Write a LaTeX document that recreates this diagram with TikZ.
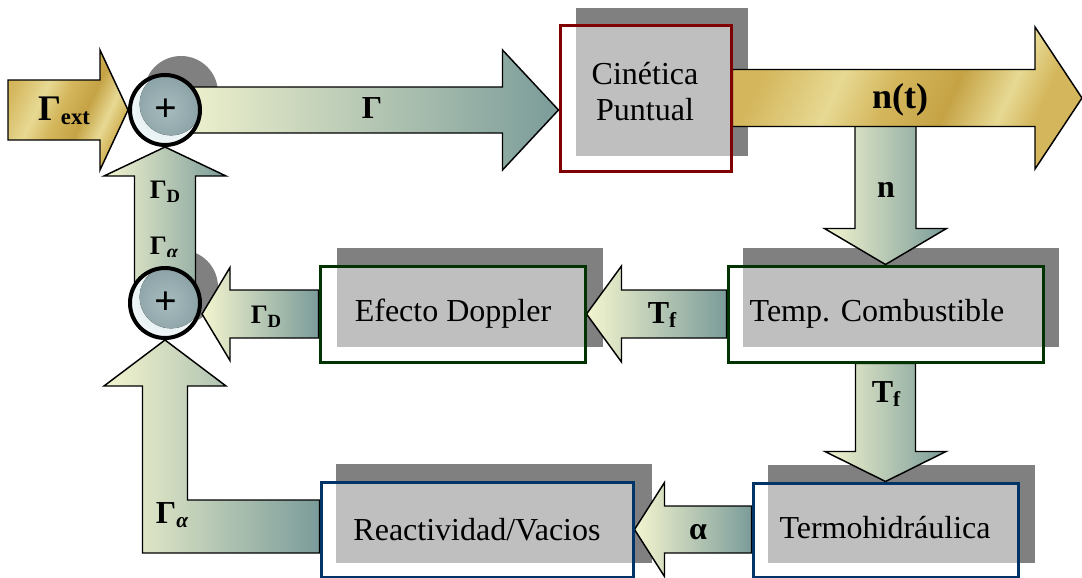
\documentclass[tikz,border=0pt]{standalone}
\usepackage{fontspec}
\setmainfont{Liberation Serif}
\usetikzlibrary{calc}

\pgfdeclarelayer{shadowlayer}
\pgfdeclarelayer{arrowlayer}
\pgfsetlayers{shadowlayer,arrowlayer,main}

\definecolor{boxred}{HTML}{800000}
\definecolor{boxgreen}{HTML}{003300}
\definecolor{boxblue}{HTML}{003366}
\definecolor{shadowgray}{HTML}{808080}
\definecolor{flowlight}{HTML}{F4F5CF}
\definecolor{flowdark}{HTML}{7B9C9A}
\definecolor{goldA}{HTML}{D4B65C}
\definecolor{goldB}{HTML}{E7D993}
\definecolor{goldC}{HTML}{C5A345}
\definecolor{ballrimin}{HTML}{CFE1E5}
\definecolor{ballrimout}{HTML}{F2F8F9}
\definecolor{ballin}{HTML}{A7BCBF}
\definecolor{ballout}{HTML}{89A0A4}

% metallic gold band pattern for the main signal arrows
\pgfdeclarehorizontalshading{goldmetal}{100bp}{color(0bp)=(goldA); color(25bp)=(goldA); color(38bp)=(goldB); color(47bp)=(goldA); color(57bp)=(goldC); color(66bp)=(goldB); color(72bp)=(goldA); color(100bp)=(goldA)}

% horizontal block arrow: style, start, tip, half body, half head, head length (signed, + = rightwards), in px
\newcommand{\hblock}[6]{%
  \path[#1] let \p1=(#2), \p2=(#3) in
    (\x1,{\y2+#4*0.75pt}) -- ({\x2-(#6)*0.75pt},{\y2+#4*0.75pt})
    -- ({\x2-(#6)*0.75pt},{\y2+#5*0.75pt}) -- (\x2,\y2)
    -- ({\x2-(#6)*0.75pt},{\y2-#5*0.75pt}) -- ({\x2-(#6)*0.75pt},{\y2-#4*0.75pt})
    -- (\x1,{\y2-#4*0.75pt}) -- cycle;}
% vertical block arrow: style, start, tip, half body, half head, head length (signed, + = downwards), in px
\newcommand{\vblock}[6]{%
  \path[#1] let \p1=(#2), \p2=(#3) in
    ({\x2-#4*0.75pt},\y1) -- ({\x2-#4*0.75pt},{\y2+(#6)*0.75pt})
    -- ({\x2-#5*0.75pt},{\y2+(#6)*0.75pt}) -- (\x2,\y2)
    -- ({\x2+#5*0.75pt},{\y2+(#6)*0.75pt}) -- ({\x2+#4*0.75pt},{\y2+(#6)*0.75pt})
    -- ({\x2+#4*0.75pt},\y1) -- cycle;}
\newcommand{\lowsub}[3]{\raisebox{-#2}{\fontsize{#1}{#1}\selectfont #3}}

\tikzset{
  flow/.style={draw=black, line width=1.1pt, left color=flowlight, right color=flowdark},
  goldflow/.style={draw=black, line width=1.1pt, shade, shading=goldmetal, shading angle=-25},
  blockbox/.style={draw=#1, line width=2.25pt, fill=white, fill opacity=0.5, draw opacity=1, inner sep=0pt},
  boxtext/.style={font=\fontsize{24}{27}\selectfont, align=center, inner sep=0pt},
  lbl/.style={font=\bfseries\fontsize{24}{24}\selectfont, inner sep=0pt},
  sumnode/.style={circle, draw=black, line width=3pt, minimum size=52.5pt, inner sep=0pt,
    inner color=ballrimin, outer color=ballrimout,
    path picture={\fill[inner color=ballin, outer color=ballout]
      ([xshift=4.5pt,yshift=4.5pt]path picture bounding box.center) circle (23.5pt);},
    font=\bfseries\fontsize{30}{30}\selectfont},
}

\begin{document}
\begin{tikzpicture}[x=0.75pt, y=-0.75pt]
\useasboundingbox (0,0) rectangle (1082,578);

% blocks
\node[blockbox=boxred,   minimum width=128.25pt, minimum height=109.5pt] (cin)   at (645.5,98) {};
\node[blockbox=boxgreen, minimum width=236.25pt, minimum height=72pt]    (temp)  at (885.5,314) {};
\node[blockbox=boxgreen, minimum width=198.75pt, minimum height=72pt]    (dop)   at (452.5,314) {};
\node[blockbox=boxblue,  minimum width=198.75pt, minimum height=70.5pt]  (termo) at (885.5,530) {};
\node[blockbox=boxblue,  minimum width=234pt,    minimum height=71.25pt] (react) at (477,529.5) {};

\node[boxtext] (cin-t)   at (645,92)  {Cinética\\Puntual};
\node[boxtext] (temp-t)  at (877,314) {Temp. Combustible};
\node[boxtext] (dop-t)   at (453,314) {Efecto Doppler};
\node[boxtext] (termo-t) at (885,528) {Termohidráulica};
\node[boxtext] (react-t) at (477,530) {Reactividad/Vacios};

% summing junctions
\node[sumnode] (s1) at (165,110) {\raisebox{-4pt}{\hspace*{2pt}+}};
\node[sumnode] (s2) at (165,303) {\raisebox{-4pt}{\hspace*{2pt}+}};

% drop shadows
\begin{pgfonlayer}{shadowlayer}
  \fill[shadowgray] (576,8) rectangle (748,156);
  \fill[shadowgray] (743,248) rectangle (1059,347);
  \fill[shadowgray] (337,248) rectangle (603,347);
  \fill[shadowgray] (768,465) rectangle (1035,563);
  \fill[shadowgray] (336,464) rectangle (652,563);
  \fill[shadowgray] (181,93) circle (27.75pt);
  \fill[shadowgray] (181,287) circle (27.75pt);
\end{pgfonlayer}

% signal arrows
\begin{pgfonlayer}{arrowlayer}
  \coordinate (ext) at (8,110);
  \coordinate (out) at (1082,98);
  \hblock{goldflow}{ext}{s1.west}{30}{60}{28}
  \hblock{flow}{s1.center}{cin.west |- s1.center}{23}{60}{56}
  \vblock{flow}{temp.north |- cin.center}{temp.north}{30.5}{61}{36}
  \hblock{goldflow}{cin.east}{out}{28.5}{71}{47}
  \hblock{flow}{temp.west}{dop.east}{24}{48}{-35}
  \hblock{flow}{dop.west}{s2.east |- dop.west}{24}{46.5}{-28}
  \vblock{flow}{s2.center}{s1.south}{30.5}{61}{-29}
  \vblock{flow}{temp.south}{termo.north}{30}{60.5}{30}
  \hblock{flow}{termo.west}{react.east}{23.5}{47}{-30}
  % void reactivity feedback, turning up into the lower junction
  \path[flow] let \p1=(react.west), \p2=(s2.south) in
    (\x1,{\y1+29.5*0.75pt}) -- ({\x2+22.5*0.75pt},{\y1+29.5*0.75pt})
    -- ({\x2+22.5*0.75pt},{\y2-46*0.75pt}) -- ({\x2+61*0.75pt},{\y2-46*0.75pt})
    -- (\x2,\y2) -- ({\x2-61*0.75pt},{\y2-46*0.75pt})
    -- ({\x2-22.5*0.75pt},{\y2-46*0.75pt}) -- ({\x2-22.5*0.75pt},{\y1-23.5*0.75pt})
    -- (\x1,{\y1-23.5*0.75pt}) -- cycle;
\end{pgfonlayer}

% arrow labels
\node[lbl] (l-ext) at (64,111) {{\fontsize{27}{27}\selectfont Γ}\lowsub{17}{3pt}{ext}};
\node[lbl] (l-g)   at (372,108) {Γ};
\node[lbl] (l-nt)  at (900,100) {\fontsize{27}{27}\selectfont n(t)};
\node[lbl] (l-n)   at (886,190) {n};
\node[lbl] (l-tf1) at (662,315) {T\lowsub{16}{2.5pt}{f}};
\node[lbl] (l-tf2) at (886,394) {T\lowsub{16}{2.5pt}{f}};
\node[lbl] (l-gd1) at (266,317) {{\fontsize{20}{20}\selectfont Γ}\lowsub{14}{3pt}{D}};
\node[lbl] (l-gd2) at (165,192) {{\fontsize{20}{20}\selectfont Γ}\lowsub{14}{3pt}{D}};
\begin{scope}
  \clip (120,200) rectangle (215,256);
  \node[lbl] (l-ga1) at (164,248) {{\fontsize{20}{20}\selectfont Γ}\lowsub{15}{3pt}{\itshape α}};
\end{scope}
\node[lbl] (l-al)  at (698,532) {α};
\node[lbl] (l-ga2) at (172,515) {{\fontsize{24}{24}\selectfont Γ}\lowsub{16}{3pt}{\itshape α}};
\end{tikzpicture}
\end{document}
